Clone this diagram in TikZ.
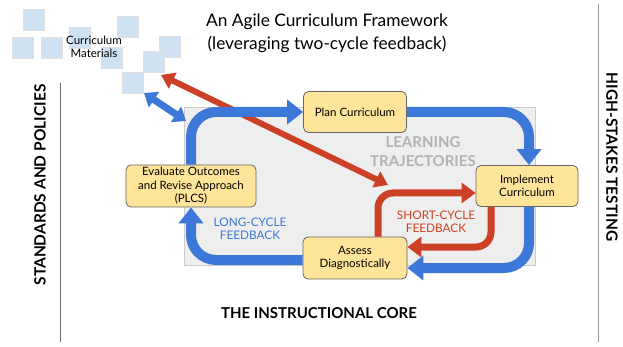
\documentclass[tikz,border=0pt]{standalone}
\usepackage{fontspec}
\setmainfont{Lato}
\usetikzlibrary{arrows.meta}
\definecolor{loopblue}{HTML}{3C78D8}
\definecolor{loopred}{HTML}{CC4125}
\definecolor{stagefill}{HTML}{FFE599}
\definecolor{tilefill}{HTML}{CFE2F3}
\definecolor{corefill}{HTML}{EEEEEE}
\tikzset{
  stage/.style={draw=black!60, fill=stagefill, rounded corners=5pt, line width=0.8pt,
    align=center, font=\fontsize{11.5}{13.5}\selectfont, inner sep=2pt},
  tile/.style={fill=tilefill, draw=black!12, line width=0.4pt},
  longloop/.style={draw=loopblue, line width=10pt, rounded corners=25pt,
    -{Triangle[width=24pt,length=16pt]}},
  shortloop/.style={draw=loopred, line width=7pt, rounded corners=15pt,
    -{Triangle[width=20pt,length=14pt]}},
  heading/.style={font=\fontsize{15.5}{18}\selectfont\bfseries}
}
\begin{document}
\begin{tikzpicture}[x=1pt,y=-1pt]
  \useasboundingbox (0,0) rectangle (623,347);
  % materials tiles
  \foreach \x/\y in {23/9,12/37,41/37,69/27,117/16,101/47,159/36,143/51,122/72}
    \draw[tile] (\x,\y) rectangle ++(21,21);
  \node[font=\fontsize{11.5}{13.5}\selectfont, align=center] (materials) at (94,47) {Curriculum\\Materials};
  % title
  \node[font=\fontsize{17.3}{23}\selectfont, align=center] (title) at (327,33)
    {An Agile Curriculum Framework\\(leveraging two-cycle feedback)};
  % side labels and rules
  \draw[black!60, line width=0.8pt] (60,83) -- (60,342);
  \draw[black!40, line width=1pt] (598,4) -- (598,342);
  \node[heading, rotate=90] (standards) at (40,185) {STANDARDS AND POLICIES};
  \node[heading, rotate=-90] (testing) at (612,157) {HIGH-STAKES TESTING};
  \node[heading, font=\fontsize{15}{18}\selectfont\bfseries] (core) at (319,313) {THE INSTRUCTIONAL CORE};
  % learning trajectories area
  \draw[fill=corefill, draw=black!20, line width=0.6pt] (184,107) rectangle (535,265);
  \node[text=black!30, align=center, font=\fontsize{15}{19}\selectfont\bfseries]
    (traj) at (423,152) {LEARNING\\TRAJECTORIES};
  % stages
  \node[stage, minimum width=103pt, minimum height=41pt] (plan) at (355,112) {Plan Curriculum};
  \node[stage, minimum width=102pt, minimum height=41pt] (implement) at (527,186) {Implement\\Curriculum};
  \node[stage, minimum width=104pt, minimum height=42pt] (assess) at (355,258) {Assess\\Diagnostically};
  \node[stage, minimum width=130pt, minimum height=42pt] (evaluate) at (191,186)
    {Evaluate Outcomes\\and Revise Approach\\(PLCS)};
  % free ends
  \coordinate (tilesend) at (161,75);
  \coordinate (trajend) at (388,185);
  \coordinate (linkA) at (144,93);
  \coordinate (linkB) at (186,121);
  % red long arrow
  \draw[loopred, line width=6pt, {Triangle[width=17pt,length=13pt]}-{Triangle[width=17pt,length=13pt]}]
    (tilesend) -- (trajend);
  % short cycle
  \draw[shortloop] ([xshift=23pt]assess.north) |- ([yshift=-7pt]implement.west);
  \draw[shortloop] ([xshift=-36pt]implement.south) |- ([yshift=11pt]assess.east);
  % long cycle
  \draw[loopblue, line width=7pt, {Triangle[width=18pt,length=12pt]}-{Triangle[width=18pt,length=12pt]}]
    (linkA) -- (linkB);
  \draw[longloop] (evaluate.north) |- (plan.west);
  \draw[longloop] (plan.east) -| ([xshift=2pt]implement.north);
  \draw[longloop] ([xshift=2pt]implement.south) |- ([yshift=-10pt]assess.east);
  \draw[longloop] ([yshift=-2pt]assess.west) -| (evaluate.south);
  % feedback labels
  \node[text=loopblue, align=center, font=\fontsize{11.8}{13.5}\selectfont] (longfb) at (250,229)
    {LONG-CYCLE\\FEEDBACK};
  \node[text=loopred, align=center, font=\fontsize{11.8}{13.5}\selectfont] (shortfb) at (436,222)
    {SHORT-CYCLE\\FEEDBACK};
\end{tikzpicture}
\end{document}
